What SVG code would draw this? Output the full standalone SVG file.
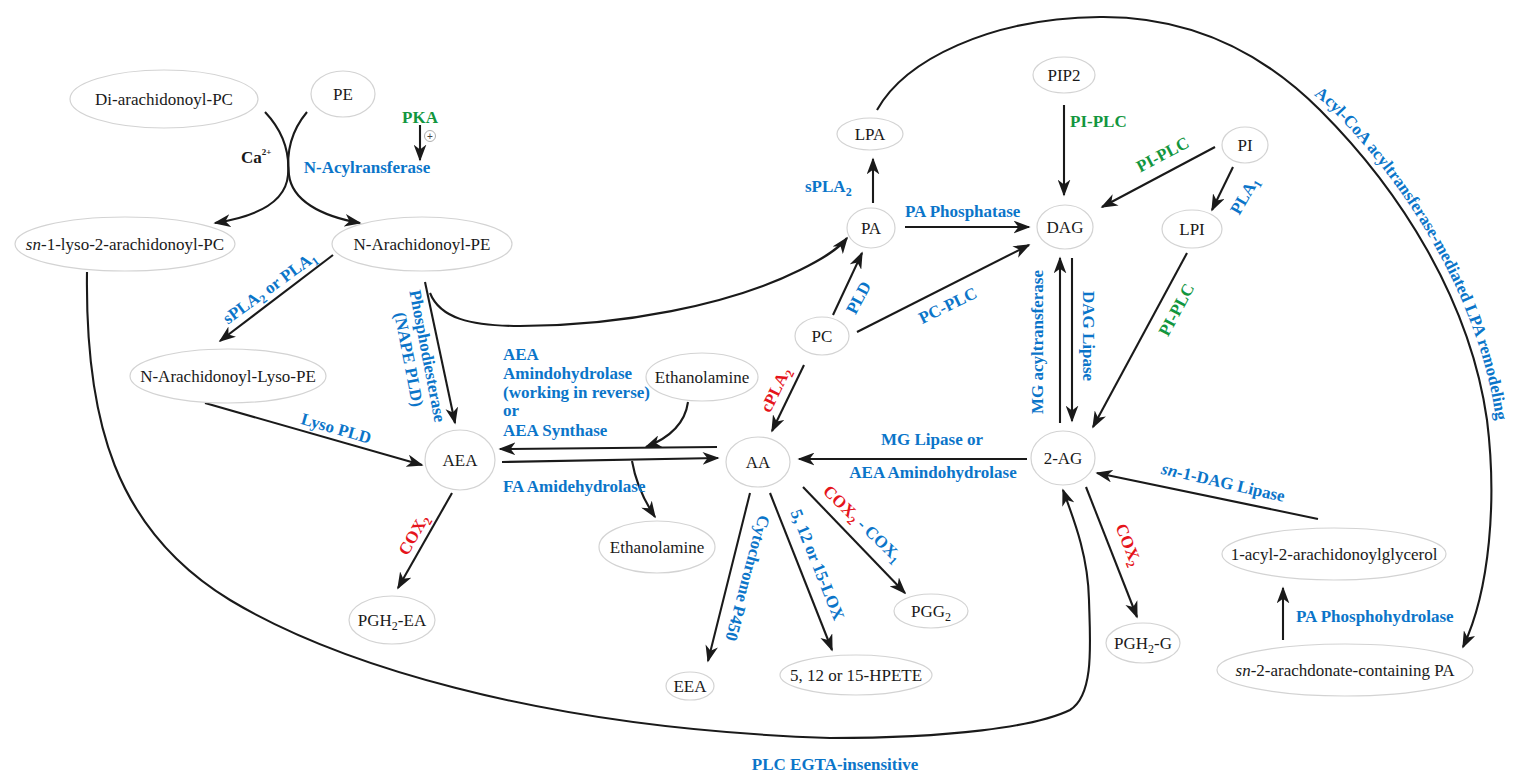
<svg xmlns="http://www.w3.org/2000/svg" width="1524" height="783" viewBox="0 0 1524 783">
<defs>
<style>
.nd ellipse{fill:#fff;stroke:#d3d3d3;stroke-width:1.2}
.nd text{font-family:"Liberation Serif","Times New Roman",serif;font-size:17px;fill:#1a1a1a;text-anchor:middle}
.c path{fill:none;stroke:#1a1a1a;stroke-width:2.1}
.c .a{marker-end:url(#ah)}
.lb{font-family:"Liberation Serif","Times New Roman",serif;font-weight:bold;font-size:17px}
.bl{fill:#0b75c9}
.gr{fill:#12963e}
.rd{fill:#e5141b}
.bk{fill:#1a1a1a}
.m{text-anchor:middle}
</style>
<marker id="ah" viewBox="0 0 16 12" refX="14.5" refY="6" markerWidth="17" markerHeight="13" markerUnits="userSpaceOnUse" orient="auto">
<path d="M0,0 L16,6 L0,12 L4.5,6 Z" fill="#1a1a1a"/>
</marker>
<path id="acylpath" d="M1296,82 L1326,104 C1406,184 1478,296 1496,419 C1501,455 1502,480 1501,520" fill="none"/>
</defs>
<rect width="1524" height="783" fill="#fff"/>

<g class="c" id="connectors">
<path class="a" d="M265,112 C282,130 290,152 288,175 C286,200 260,216 215,223"/>
<path class="a" d="M307,112 C292,130 286,152 289,175 C292,200 320,216 360,223"/>
<path class="a" d="M420,125 L420,160"/>
<path class="a" d="M333,255 L220,341"/>
<path class="a" d="M425,282 L455,423"/>
<path class="a" d="M430,293 C440,318 470,326 520,326 C620,326 730,305 800,270 C820,260 838,250 847,238"/>
<path class="a" d="M873,203 L873,159"/>
<path class="a" d="M877,110 C905,60 990,18 1100,17 C1200,16 1270,60 1320,110 C1400,190 1470,300 1487,420 C1497,500 1490,590 1463,647"/>
<path class="a" d="M1064,105 L1064,195"/>
<path class="a" d="M1215,147 L1102,207"/>
<path class="a" d="M1233,167 L1212,210"/>
<path class="a" d="M1187,253 L1093,427"/>
<path class="a" d="M905,227 L1029,227"/>
<path class="a" d="M833,315 L862,253"/>
<path class="a" d="M857,332 L1029,245"/>
<path class="a" d="M1060,423 L1060,258"/>
<path class="a" d="M1072,258 L1072,421"/>
<path class="a" d="M1027,459 L799,459"/>
<path class="a" d="M717,447 L500,449"/>
<path class="a" d="M502,462 L718,458"/>
<path class="a" d="M688,402 C685,424 669,438 646,447"/>
<path class="a" d="M632,461 C636,484 645,502 655,517"/>
<path class="a" d="M804,365 L772,431"/>
<path class="a" d="M750,493 L708,661"/>
<path class="a" d="M770,493 L832,650"/>
<path class="a" d="M803,487 L905,593"/>
<path class="a" d="M452,493 L398,588"/>
<path class="a" d="M205,403 L422,465"/>
<path class="a" d="M87,272 C85,420 115,530 230,600 C330,660 530,728 830,738 C950,738 1035,727 1070,710 C1095,695 1090,640 1089,600 C1088,555 1074,520 1063,490"/>
<path class="a" d="M1086,487 L1137,617"/>
<path class="a" d="M1318,519 L1097,473"/>
<path class="a" d="M1283,640 L1283,588"/>
</g>

<g class="nd" id="n-dipc"><ellipse cx="164" cy="99" rx="94" ry="29"/><text x="164" y="105">Di-arachidonoyl-PC</text></g>
<g class="nd" id="n-pe"><ellipse cx="343" cy="94" rx="32" ry="23"/><text x="343" y="100">PE</text></g>
<g class="nd" id="n-sn1lyso"><ellipse cx="125" cy="244" rx="110" ry="27"/><text x="125" y="250"><tspan font-style="italic">sn</tspan>-1-lyso-2-arachidonoyl-PC</text></g>
<g class="nd" id="n-nape"><ellipse cx="422" cy="244" rx="90" ry="27"/><text x="422" y="250">N-Arachidonoyl-PE</text></g>
<g class="nd" id="n-lpa"><ellipse cx="870" cy="134" rx="33" ry="16"/><text x="870" y="140">LPA</text></g>
<g class="nd" id="n-pa"><ellipse cx="871" cy="228" rx="24" ry="20"/><text x="871" y="234">PA</text></g>
<g class="nd" id="n-pip2"><ellipse cx="1064" cy="75" rx="31" ry="18"/><text x="1064" y="81">PIP2</text></g>
<g class="nd" id="n-dag"><ellipse cx="1065" cy="227" rx="28" ry="22"/><text x="1065" y="233">DAG</text></g>
<g class="nd" id="n-pi"><ellipse cx="1245" cy="145" rx="23" ry="18"/><text x="1245" y="151">PI</text></g>
<g class="nd" id="n-lpi"><ellipse cx="1192" cy="229" rx="30" ry="19"/><text x="1192" y="235">LPI</text></g>
<g class="nd" id="n-pc"><ellipse cx="822" cy="336" rx="27" ry="19"/><text x="822" y="342">PC</text></g>
<g class="nd" id="n-lysope"><ellipse cx="228" cy="376" rx="98" ry="27"/><text x="228" y="382">N-Arachidonoyl-Lyso-PE</text></g>
<g class="nd" id="n-eth1"><ellipse cx="702" cy="377" rx="56" ry="24"/><text x="702" y="383">Ethanolamine</text></g>
<g class="nd" id="n-aea"><ellipse cx="460" cy="460" rx="35" ry="30"/><text x="460" y="466">AEA</text></g>
<g class="nd" id="n-aa"><ellipse cx="758" cy="462" rx="32" ry="25"/><text x="758" y="468">AA</text></g>
<g class="nd" id="n-2ag"><ellipse cx="1063" cy="458" rx="32" ry="27"/><text x="1063" y="464">2-AG</text></g>
<g class="nd" id="n-eth2"><ellipse cx="657" cy="547" rx="58" ry="26"/><text x="657" y="553">Ethanolamine</text></g>
<g class="nd" id="n-pgh2ea"><ellipse cx="392" cy="620" rx="43" ry="24"/><text x="392" y="626">PGH<tspan dy="4" font-size="12">2</tspan><tspan dy="-4">-EA</tspan></text></g>
<g class="nd" id="n-eea"><ellipse cx="690" cy="686" rx="24" ry="14"/><text x="690" y="692">EEA</text></g>
<g class="nd" id="n-hpete"><ellipse cx="856" cy="675" rx="76" ry="20"/><text x="856" y="681">5, 12 or 15-HPETE</text></g>
<g class="nd" id="n-pgg2"><ellipse cx="931" cy="611" rx="37" ry="17"/><text x="931" y="617">PGG<tspan dy="4" font-size="12">2</tspan></text></g>
<g class="nd" id="n-pgh2g"><ellipse cx="1143" cy="643" rx="37" ry="20"/><text x="1143" y="649">PGH<tspan dy="4" font-size="12">2</tspan><tspan dy="-4">-G</tspan></text></g>
<g class="nd" id="n-acyl"><ellipse cx="1334" cy="554" rx="112" ry="26"/><text x="1334" y="560">1-acyl-2-arachidonoylglycerol</text></g>
<g class="nd" id="n-sn2pa"><ellipse cx="1345" cy="670" rx="128" ry="26"/><text x="1345" y="676"><tspan font-style="italic">sn</tspan>-2-arachdonate-containing PA</text></g>

<g id="labels">
<text class="lb bk" x="241" y="163">Ca<tspan dy="-8" font-size="9">2+</tspan></text>
<text class="lb gr m" x="420" y="123">PKA</text>
<circle cx="430" cy="136" r="5.5" fill="#fff" stroke="#999" stroke-width="0.8"/>
<text x="430" y="139.5" font-family="Liberation Sans, Arial, sans-serif" font-size="10" fill="#444" text-anchor="middle">+</text>
<text class="lb bl m" x="367" y="173">N-Acylransferase</text>
<g transform="translate(270,288) rotate(-36)"><text class="lb bl m" y="5">sPLA<tspan dy="4" font-size="12">2</tspan><tspan dy="-4"> or PLA</tspan><tspan dy="4" font-size="12">1</tspan></text></g>
<g transform="translate(422,357) rotate(79)"><text class="lb bl m" y="0">Phosphodiesterase</text><text class="lb bl m" y="19">(NAPE PLD)</text></g>
<g transform="translate(336,429) rotate(16)"><text class="lb bl m" y="5">Lyso PLD</text></g>
<text class="lb bl" x="805" y="192">sPLA<tspan dy="4" font-size="12">2</tspan></text>
<text class="lb bl" x="905" y="217">PA Phosphatase</text>
<g transform="translate(859,298) rotate(-62)"><text class="lb bl m" y="5">PLD</text></g>
<g transform="translate(948,306) rotate(-26)"><text class="lb bl m" y="5">PC-PLC</text></g>
<text class="lb gr" x="1070" y="127">PI-PLC</text>
<g transform="translate(1163,155) rotate(-28)"><text class="lb gr m" y="5">PI-PLC</text></g>
<g transform="translate(1245,196) rotate(-60)"><text class="lb bl m" y="5">PLA<tspan dy="4" font-size="12">1</tspan></text></g>
<g transform="translate(1177,310) rotate(-62)"><text class="lb gr m" y="5">PI-PLC</text></g>
<g transform="translate(1038,342) rotate(-90)"><text class="lb bl m" y="5">MG acyltransferase</text></g>
<g transform="translate(1088,336) rotate(90)"><text class="lb bl m" y="5">DAG Lipase</text></g>
<text class="lb bl" x="503" y="360">AEA</text>
<text class="lb bl" x="503" y="379">Amindohydrolase</text>
<text class="lb bl" x="503" y="398">(working in reverse)</text>
<text class="lb bl" x="503" y="416">or</text>
<text class="lb bl" x="503" y="436">AEA Synthase</text>
<text class="lb bl" x="503" y="492">FA Amidehydrolase</text>
<text class="lb bl m" x="932" y="445">MG Lipase or</text>
<text class="lb bl m" x="933" y="478">AEA Amindohydrolase</text>
<g transform="translate(776,390) rotate(-64)"><text class="lb rd m" y="5">cPLA<tspan dy="4" font-size="12">2</tspan></text></g>
<g transform="translate(414,535) rotate(-60)"><text class="lb rd m" y="5">COX<tspan dy="4" font-size="12">2</tspan></text></g>
<g transform="translate(747,578) rotate(105)"><text class="lb bl m" y="5">Cytochrome P450</text></g>
<g transform="translate(817,565) rotate(68)"><text class="lb bl m" y="5">5, 12 or 15-LOX</text></g>
<g transform="translate(862,524) rotate(44)"><text class="lb m" y="5"><tspan class="rd">COX</tspan><tspan class="rd" dy="4" font-size="12">2</tspan><tspan class="bl" dy="-4"> - COX</tspan><tspan class="bl" dy="4" font-size="12">1</tspan></text></g>
<g transform="translate(1128,545) rotate(68)"><text class="lb rd m" y="5">COX<tspan dy="4" font-size="12">2</tspan></text></g>
<g transform="translate(1223,483) rotate(13)"><text class="lb bl m" y="5"><tspan font-style="italic">sn</tspan>-1-DAG Lipase</text></g>
<text class="lb bl" x="1296" y="622">PA Phosphohydrolase</text>
<text class="lb bl m" x="835" y="770">PLC EGTA-insensitive</text>
<text class="lb bl"><textPath href="#acylpath" startOffset="22">Acyl-CoA acyltransferase-mediated LPA remodeling</textPath></text>
</g>
</svg>
